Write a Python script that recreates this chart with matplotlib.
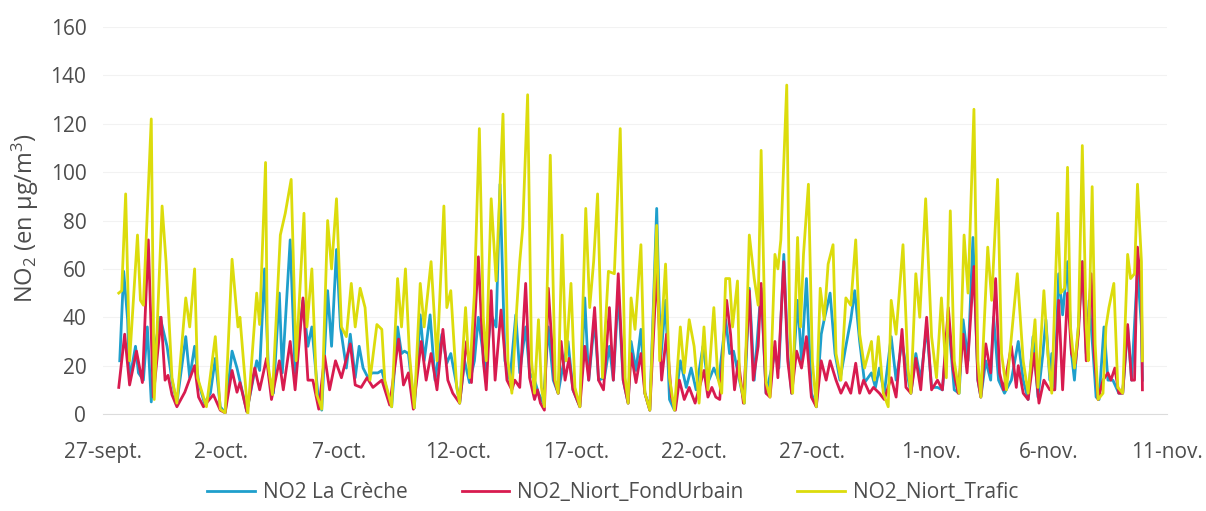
import pandas as pd
import matplotlib
matplotlib.use('Agg')
import matplotlib.pyplot as plt

plt.rcParams['font.family'] = ['Open Sans', 'DejaVu Sans']
plt.rcParams['mathtext.fontset'] = 'custom'
plt.rcParams['mathtext.rm'] = 'Open Sans'
plt.rcParams['mathtext.it'] = 'Open Sans'

# heures depuis le 27-sept 00:00, valeurs NO2 en µg/m3
creche_h = [17, 21, 25, 27, 33, 36, 41, 45, 49, 53, 58, 65, 70, 75, 84, 88, 93, 97, 103, 109,
            114, 119, 124, 131, 136, 146, 156, 159, 164, 168, 173, 179, 182, 190, 195, 203, 208, 212, 218, 222,
            228, 232, 237, 241, 247, 251, 256, 260, 264, 269, 273, 279, 283, 288, 293, 299, 303, 306, 310, 313,
            316, 322, 326, 332, 337, 344, 349, 353, 358, 362, 367, 372, 377, 381, 388, 394, 399, 403, 408, 413,
            419, 423, 429, 433, 438, 442, 447, 452, 457, 462, 466, 472, 477, 484, 489, 493, 499, 503, 509, 514,
            518, 523, 528, 533, 536, 541, 546, 550, 555, 562, 566, 571, 575, 580, 586, 592, 597, 602, 609, 614,
            620, 625, 632, 636, 640, 646, 651, 656, 661, 668, 673, 682, 686, 691, 695, 699, 705, 709, 714, 719,
            724, 729, 732, 738, 743, 748, 754, 759, 763, 768, 773, 780, 784, 788, 793, 800, 805, 811, 816, 820,
            825, 830, 836, 841, 847, 852, 858, 864, 869, 873, 878, 883, 888, 891, 896, 901, 904, 909, 915, 922,
            929, 934, 939, 944, 949, 954, 957, 961, 963, 966, 970, 974, 979, 983, 986, 990, 994, 998, 1001, 1005,
            1008, 1011, 1016, 1020, 1025, 1031, 1035, 1040, 1044, 1050, 1054, 1055]
creche_v = [22, 59, 39, 14, 28, 17, 14, 36, 5, 28, 40, 28, 14, 4.5, 32, 15, 28, 13, 4.5, 8.6,
            23, 3, 0.5, 26, 19, 1, 22, 18, 60, 17, 8.6, 50, 17, 72, 17, 47, 28, 36, 8.6, 1.6,
            51, 28, 68, 36, 19, 33, 15, 28, 19, 15, 17, 17, 18, 10, 3, 36, 25, 26, 25, 14,
            2.5, 41, 22, 41, 14, 33, 21, 25, 14, 4.5, 22, 13, 22, 40, 18, 41, 36, 95, 22, 14,
            41, 17, 36, 17, 14, 8.6, 4.5, 36, 14, 8.6, 18, 30, 10, 3, 48, 14, 39, 14, 15, 28,
            14, 50, 14, 4.5, 30, 18, 35, 8.6, 1.6, 85, 22, 47, 6, 1.6, 22, 11, 19, 10, 28, 13,
            19, 14, 39, 25, 26, 14, 4.5, 52, 14, 52, 8.6, 25, 19, 66, 25, 8.6, 47, 22, 56, 8.6,
            3, 33, 39, 50, 25, 14, 28, 39, 51, 30, 13, 17, 11, 19, 8.6, 32, 14, 30, 17, 8.6,
            25, 14, 36, 11, 11, 10, 39, 10, 8.6, 39, 22, 73, 14, 7, 22, 14, 40, 14, 8.6, 14,
            30, 14, 6, 32, 7, 25, 39, 14, 25, 10, 58, 41, 63, 25, 14, 36, 63, 25, 47, 25,
            7, 6, 36, 14, 14, 8.6, 8.6, 36, 14, 60, 36, 14]

fond_h = [16, 22, 27, 34, 40, 46, 51, 59, 63, 66, 70, 75, 83, 93, 97, 102, 112, 119, 124, 131,
          136, 139, 146, 154, 159, 166, 171, 179, 183, 190, 195, 203, 208, 213, 219, 225, 230, 236, 242, 251,
          256, 262, 268, 274, 283, 291, 300, 305, 310, 315, 323, 328, 333, 339, 345, 350, 355, 362, 369, 374,
          381, 386, 389, 394, 398, 404, 410, 415, 418, 423, 429, 433, 438, 441, 444, 448, 452, 458, 462, 465,
          469, 473, 477, 484, 489, 493, 499, 503, 508, 514, 518, 523, 528, 533, 536, 541, 546, 550, 555, 562,
          567, 572, 577, 581, 585, 590, 595, 601, 610, 614, 618, 622, 626, 633, 637, 641, 645, 650, 656, 660,
          665, 668, 673, 677, 682, 685, 691, 695, 699, 704, 709, 714, 719, 724, 729, 734, 738, 744, 749, 754,
          759, 764, 768, 772, 778, 782, 788, 793, 800, 805, 811, 815, 820, 825, 830, 836, 841, 847, 852, 858,
          863, 868, 873, 877, 884, 888, 891, 896, 901, 906, 910, 914, 922, 927, 929, 934, 939, 945, 950, 955,
          961, 966, 970, 974, 979, 983, 987, 990, 994, 998, 1003, 1006, 1010, 1015, 1020, 1023, 1027, 1031, 1035, 1040,
          1044, 1047, 1050, 1054, 1055]
fond_v = [11, 33, 12, 26, 13, 72, 7, 40, 14, 16, 8, 3, 9, 20, 7, 3, 8, 1.6, 0.5, 18,
          9, 13, 1, 19, 10, 23, 6, 22, 10, 30, 10, 48, 14, 14, 2, 24, 10, 22, 15, 29,
          12, 11, 15, 11, 14, 3.7, 31, 12, 17, 2, 30, 14, 25, 10, 35, 14, 8.6, 4.5, 30, 13,
          65, 22, 10, 51, 14, 43, 14, 10, 14, 11, 54, 15, 6, 10, 4.5, 1.6, 52, 14, 8.6, 30,
          14, 23, 10, 3, 28, 14, 44, 14, 10, 44, 14, 58, 14, 4.5, 25, 13, 25, 8.6, 1.6, 59,
          14, 33, 7, 1.6, 14, 6, 11, 4.5, 18, 7, 11, 7, 6, 47, 33, 10, 22, 4.5, 51, 14,
          28, 54, 8.6, 7, 30, 15, 63, 22, 8.6, 26, 19, 32, 7, 3, 22, 14, 22, 14, 8.6, 13,
          8.6, 21, 8.6, 14, 8.6, 11, 8.6, 6, 15, 7, 35, 11, 8.6, 23, 10, 40, 10, 14, 10, 44,
          18, 8.6, 33, 17, 61, 14, 7, 29, 17, 56, 17, 10, 28, 11, 20, 8.6, 6, 25, 4.5, 14,
          10, 10, 47, 10, 50, 25, 21, 33, 63, 22, 58, 25, 6, 14, 17, 14, 19, 8.6, 8.6, 37,
          14, 14, 69, 50, 10]

trafic_h = [16, 19, 23, 27, 35, 38, 41, 49, 52, 60, 64, 70, 75, 84, 88, 93, 96, 105, 114, 119,
            124, 131, 137, 139, 147, 156, 159, 165, 167, 172, 180, 185, 191, 196, 204, 207, 212, 217, 222, 228,
            232, 237, 242, 247, 252, 256, 261, 266, 271, 278, 283, 286, 293, 299, 303, 307, 311, 316, 322, 326,
            333, 339, 346, 349, 353, 359, 362, 368, 372, 377, 382, 386, 389, 394, 399, 406, 411, 415, 420, 423,
            426, 431, 435, 438, 442, 445, 448, 454, 459, 462, 466, 470, 475, 479, 484, 490, 494, 498, 502, 507,
            513, 519, 525, 530, 533, 536, 540, 546, 550, 555, 562, 565, 571, 575, 580, 586, 590, 595, 600, 605,
            610, 614, 620, 624, 628, 632, 636, 639, 644, 646, 651, 656, 661, 665, 668, 673, 677, 682, 685, 688,
            694, 697, 700, 705, 708, 711, 716, 720, 724, 728, 732, 736, 741, 744, 749, 754, 759, 764, 768, 773,
            780, 783, 787, 792, 797, 800, 805, 812, 817, 820, 825, 829, 835, 841, 846, 851, 856, 860, 864, 869,
            874, 878, 884, 888, 891, 898, 902, 908, 912, 917, 923, 928, 934, 939, 946, 949, 955, 959, 963, 969,
            972, 976, 979, 982, 986, 990, 994, 998, 1000, 1004, 1007, 1010, 1015, 1018, 1021, 1026, 1030, 1035, 1040, 1043,
            1047, 1050, 1054, 1055]
trafic_v = [50, 51, 91, 22, 74, 47, 45, 122, 6, 86, 63, 15, 4.5, 48, 36, 60, 15, 3, 32, 2,
            0.5, 64, 36, 40, 0, 50, 37, 104, 22, 8, 74, 83, 97, 22, 83, 36, 60, 8, 2, 80,
            60, 89, 36, 32, 54, 36, 52, 44, 14, 37, 35, 14, 3, 56, 36, 60, 25, 2.5, 54, 36,
            63, 22, 86, 44, 51, 11, 4.5, 44, 15, 50, 118, 40, 22, 89, 55, 124, 22, 8.6, 44, 63,
            77, 132, 22, 8.6, 39, 11, 3, 107, 14, 8.6, 74, 22, 54, 11, 3, 85, 44, 63, 91, 15,
            59, 58, 118, 15, 4.5, 48, 35, 70, 8.6, 1.6, 78, 22, 62, 15, 1.6, 36, 17, 39, 28, 4.5,
            36, 10, 44, 15, 8.6, 56, 56, 36, 55, 15, 4.5, 74, 56, 45, 109, 13, 7, 66, 60, 72,
            136, 36, 8.6, 73, 36, 66, 95, 22, 3, 52, 39, 62, 70, 25, 14, 48, 45, 72, 33, 19,
            30, 14, 32, 8.6, 3, 47, 33, 70, 19, 8.6, 58, 40, 89, 32, 15, 48, 15, 84, 22, 8.6,
            74, 50, 126, 22, 7, 69, 47, 97, 25, 10, 36, 58, 22, 8.6, 39, 11, 51, 25, 8.6, 83,
            50, 52, 102, 36, 19, 36, 111, 36, 22, 94, 29, 6, 8.6, 36, 44, 54, 11, 8.6, 66, 56,
            58, 95, 63, 22]

tick_labels = ['27-sept.', '2-oct.', '7-oct.', '12-oct.', '17-oct.', '22-oct.',
               '27-oct.', '1-nov.', '6-nov.', '11-nov.']
series_names = ['NO2 La Crèche', 'NO2_Niort_FondUrbain', 'NO2_Niort_Trafic']

start = pd.Timestamp('2021-09-27')
txt_color = '#4d4d4d'


def to_dates(hours):
    return start + pd.to_timedelta(hours, unit='h')


fig = plt.figure(figsize=(12.06, 5.11), dpi=100)
ax = fig.add_axes([0.0854, 0.1898, 0.8823, 0.7573])

ax.plot(to_dates(creche_h), creche_v, color='#1e9fcc', lw=2.0, label=series_names[0])
ax.plot(to_dates(fond_h), fond_v, color='#d81b4f', lw=2.0, label=series_names[1])
ax.plot(to_dates(trafic_h), trafic_v, color='#dcdc0c', lw=2.0, label=series_names[2])

ticks = pd.date_range(start, periods=len(tick_labels), freq='5D')
ax.set_xlim(ticks[0], ticks[-1])
ax.set_xticks(ticks)
ax.set_xticklabels(tick_labels)
ax.set_ylim(0, 160)
ax.set_yticks(range(0, 161, 20))

ax.grid(axis='y', color='#f2f2f2', lw=0.8)
ax.set_axisbelow(True)
for side in ['left', 'right', 'top']:
    ax.spines[side].set_visible(False)
ax.spines['bottom'].set_color('#dcdcdc')
ax.tick_params(axis='both', length=0, labelsize=15, colors=txt_color)
ax.tick_params(axis='x', pad=20)
ax.tick_params(axis='y', pad=12)

fig.text(0.021, 1 - 218 / 511, r'NO$_2$ (en µg/m$^3$)', rotation=90,
         ha='center', va='center', fontsize=17, color=txt_color)

fig.legend(loc='center', bbox_to_anchor=(0.508, 0.036), ncol=3, frameon=False,
           fontsize=15, handlelength=2.3, handletextpad=0.35, columnspacing=2.6,
           labelcolor=txt_color)

fig.savefig('out.png', dpi=100)
